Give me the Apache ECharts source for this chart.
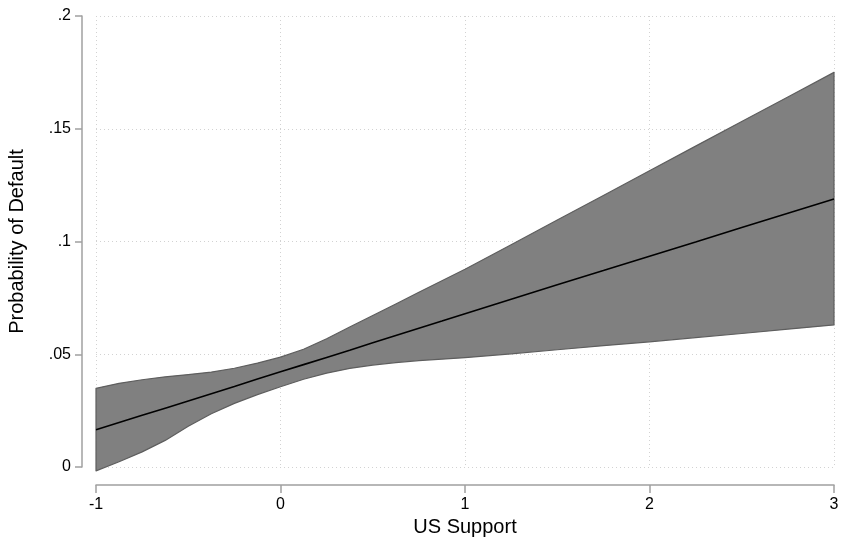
<!DOCTYPE html>
<html>
<head>
<meta charset="utf-8">
<script src="https://cdn.jsdelivr.net/npm/echarts@6/dist/echarts.min.js"></script>
<style>html,body{margin:0;padding:0;background:#fff}#c{width:841px;height:543px}</style>
</head>
<body>
<div id="c"></div>
<script>
// US Support values (x)
const xs = [-1, -0.875, -0.75, -0.625, -0.5, -0.375, -0.25, -0.125, 0, 0.125, 0.25, 0.375, 0.5, 0.625, 0.75, 0.875, 1, 1.25, 1.5, 1.75, 2, 2.25, 2.5, 2.75, 3];
// Predicted probability of default
const fit = [0.0165, 0.0197, 0.0229, 0.0261, 0.0293, 0.0325, 0.0357, 0.0390, 0.0422, 0.0454, 0.0486, 0.0518, 0.0551, 0.0583, 0.0615, 0.0647, 0.0680, 0.0744, 0.0808, 0.0871, 0.0935, 0.0998, 0.1062, 0.1125, 0.1188];
// Upper confidence bound
const upper = [0.0349, 0.0371, 0.0387, 0.0400, 0.0410, 0.0421, 0.0438, 0.0461, 0.0487, 0.0522, 0.0569, 0.0621, 0.0672, 0.0723, 0.0775, 0.0826, 0.0877, 0.0986, 0.1095, 0.1204, 0.1314, 0.1423, 0.1532, 0.1641, 0.1750];
// Lower confidence bound
const lower = [-0.0017, 0.0023, 0.0067, 0.0118, 0.0181, 0.0236, 0.0282, 0.0321, 0.0356, 0.0389, 0.0416, 0.0437, 0.0452, 0.0463, 0.0472, 0.0478, 0.0485, 0.0502, 0.0520, 0.0538, 0.0555, 0.0574, 0.0592, 0.0611, 0.0630];
// Axis tick labels
const xTicks = ['-1', '0', '1', '2', '3'];
const yTicks = ['0', '.05', '.1', '.15', '.2'];

const chart = echarts.init(document.getElementById('c'), null, {renderer: 'canvas'});
const font = '"Liberation Sans", Arial, sans-serif';
const gridLine = {show: true, lineStyle: {color: '#d2d2d2', type: [1, 3], width: 1}};
chart.setOption({
  animation: false,
  backgroundColor: '#fff',
  grid: {left: 96, right: 7, top: 16, bottom: 76, containLabel: false, outerBoundsMode: 'none'},
  xAxis: {
    type: 'value', min: -1, max: 3, interval: 1, offset: 18,
    name: 'US Support', nameLocation: 'middle', nameGap: 27,
    nameTextStyle: {fontFamily: font, fontSize: 20, color: '#000'},
    axisLine: {show: true, onZero: false, lineStyle: {color: '#a0a0a0', width: 1.5}},
    axisTick: {show: true, length: 8, lineStyle: {color: '#a0a0a0', width: 1.5}},
    axisLabel: {fontFamily: font, fontSize: 16, color: '#000', margin: 12,
      formatter: (v) => xTicks[Math.round(v + 1)]},
    splitLine: gridLine
  },
  yAxis: {
    type: 'value', min: 0, max: 0.2, interval: 0.05, offset: 14,
    name: 'Probability of Default', nameLocation: 'middle', nameGap: 55, nameRotate: 90,
    nameTextStyle: {fontFamily: font, fontSize: 20, color: '#000'},
    axisLine: {show: true, onZero: false, lineStyle: {color: '#a0a0a0', width: 1.5}},
    axisTick: {show: true, length: 7, lineStyle: {color: '#a0a0a0', width: 1.5}},
    axisLabel: {fontFamily: font, fontSize: 16, color: '#000', margin: 11,
      formatter: (v) => yTicks[Math.round(v / 0.05)]},
    splitLine: gridLine
  },
  series: [
    {
      type: 'custom',
      clip: false,
      data: [0],
      renderItem: function (params, api) {
        const pts = [];
        for (let i = 0; i < xs.length; i++) pts.push(api.coord([xs[i], upper[i]]));
        for (let i = xs.length - 1; i >= 0; i--) pts.push(api.coord([xs[i], lower[i]]));
        return {
          type: 'polygon',
          shape: {points: pts},
          style: {fill: '#808080', stroke: '#5e5e5e', lineWidth: 1.2, lineJoin: 'round'}
        };
      },
      z: 2
    },
    {
      type: 'line',
      data: xs.map((x, i) => [x, fit[i]]),
      showSymbol: false,
      symbol: 'none',
      lineStyle: {color: '#000', width: 1.6},
      z: 3
    }
  ]
});
</script>
</body>
</html>
